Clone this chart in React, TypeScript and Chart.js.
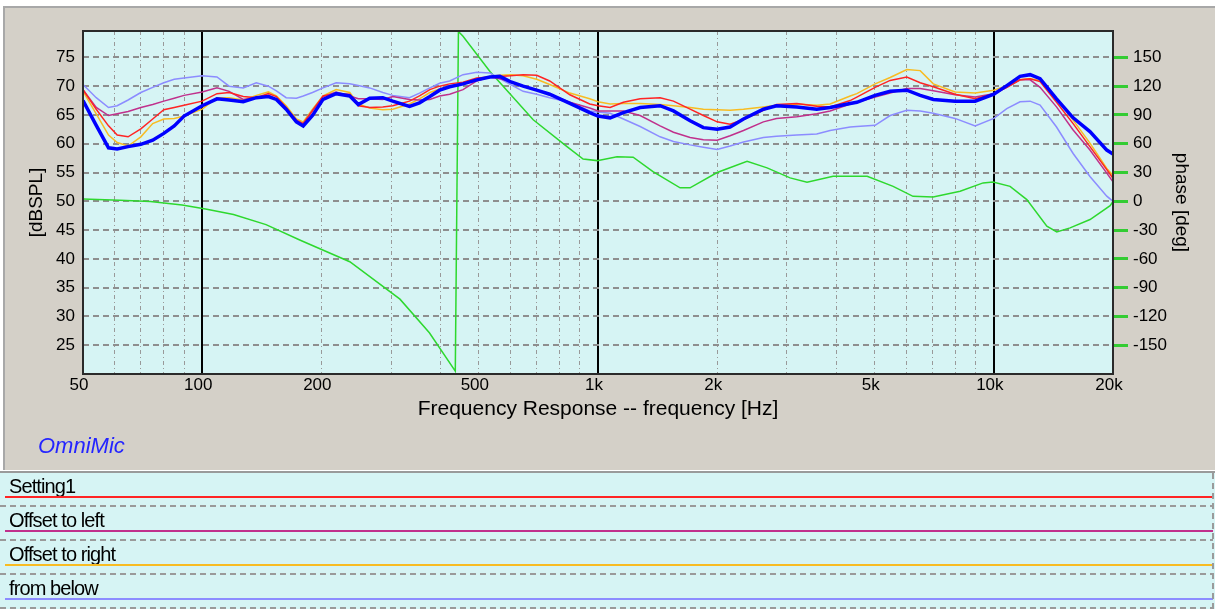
import React, { useEffect, useRef } from 'react';
import { Chart, registerables } from 'chart.js';

Chart.register(...registerables);

// ---------------- data ----------------
const FREQ = [50, 54, 58, 61, 65, 70, 75, 80, 85, 90,
  100, 109, 117, 127, 137, 147, 154, 163, 173, 180,
  190, 202, 218, 236, 248, 265, 286, 303, 334, 354,
  376, 398, 422, 456, 494, 533, 565, 600, 647, 700,
  755, 849, 953, 1000, 1073, 1159, 1278, 1435, 1551, 1709,
  1846, 2000, 2156, 2331, 2617, 2825, 3180, 3569, 3858, 4336,
  4507, 5013, 5471, 6028, 6515, 7033, 7980, 8970, 10000, 10783,
  11645, 12350, 13085, 14400, 15860, 17490, 19290, 20000];

const MAIN = [67.5, 63.2, 59.3, 59.1, 59.5, 59.9, 60.6, 61.8, 63.1, 64.8,
  66.6, 67.8, 67.6, 67.3, 68.0, 68.2, 67.7, 66.0, 63.8, 63.1,
  64.9, 67.7, 68.7, 68.3, 66.8, 67.9, 68.0, 67.4, 66.5, 67.1,
  68.2, 69.3, 69.9, 70.4, 71.1, 71.6, 71.7, 70.8, 70.0, 69.3,
  68.6, 67.0, 65.4, 64.8, 64.5, 65.4, 66.3, 66.6, 65.7, 64.0,
  62.8, 62.5, 62.9, 64.3, 66.0, 66.6, 66.4, 66.0, 66.3, 67.0,
  67.2, 68.4, 69.1, 69.3, 68.4, 67.7, 67.4, 67.4, 68.6, 70.1,
  71.7, 72.0, 71.3, 67.8, 64.5, 62.1, 58.9, 58.2];

const SETTING1 = [69.4, 66.0, 63.1, 61.5, 61.2, 62.6, 64.3, 65.9, 66.3, 66.7,
  67.4, 68.7, 68.9, 68.2, 68.0, 68.7, 68.2, 66.3, 64.0, 63.5,
  65.7, 68.3, 68.7, 68.6, 66.6, 66.3, 66.4, 66.6, 67.4, 68.3,
  69.4, 70.0, 70.4, 70.7, 71.4, 71.6, 71.7, 71.8, 72.0, 71.9,
  70.9, 68.5, 66.9, 66.6, 66.3, 67.2, 67.8, 68.0, 67.4, 66.0,
  64.9, 63.8, 63.4, 64.2, 65.8, 66.8, 67.0, 66.5, 66.4, 67.5,
  68.1, 69.8, 71.0, 71.6, 70.6, 69.9, 68.6, 67.8, 68.7, 69.8,
  71.1, 71.3, 70.8, 67.2, 63.5, 59.5, 55.5, 54.0];

const OFFSET_LEFT = [69.4, 66.3, 64.9, 65.2, 65.6, 66.3, 66.8, 67.4, 67.9, 68.4,
  69.0, 69.7, 69.1, 67.7, 68.0, 68.4, 67.7, 66.0, 64.1, 63.5,
  65.8, 68.2, 69.0, 68.3, 67.8, 67.8, 67.7, 68.2, 67.7, 67.6,
  67.7, 68.3, 68.6, 69.4, 70.9, 71.6, 71.3, 70.8, 70.0, 69.4,
  68.6, 67.2, 66.2, 65.7, 65.7, 65.7, 64.9, 63.1, 62.0, 61.1,
  60.7, 60.6, 61.4, 62.3, 63.8, 64.4, 64.7, 65.2, 65.7, 66.9,
  67.2, 68.1, 68.8, 69.6, 69.6, 69.2, 68.5, 68.1, 68.7, 69.8,
  71.1, 71.1, 69.8, 66.4, 62.4, 58.9, 54.9, 53.4];

const OFFSET_RIGHT = [69.1, 65.2, 61.5, 60.2, 59.6, 61.2, 63.5, 64.3, 64.4, 64.8,
  66.0, 68.0, 68.0, 67.6, 68.4, 69.0, 68.3, 66.6, 64.3, 63.8,
  66.0, 68.3, 69.4, 68.9, 66.9, 66.2, 65.9, 66.0, 66.9, 67.8,
  68.9, 69.5, 70.0, 70.6, 71.2, 71.7, 71.9, 72.0, 71.8, 71.2,
  70.3, 68.8, 67.8, 67.3, 66.9, 67.0, 67.0, 66.8, 66.6, 66.3,
  66.0, 65.9, 65.8, 66.0, 66.4, 66.7, 66.9, 66.7, 66.9, 68.3,
  68.7, 70.4, 71.5, 72.9, 72.7, 70.4, 69.0, 68.8, 69.3, 70.1,
  71.1, 71.3, 71.0, 67.8, 64.1, 60.1, 55.7, 54.5];

const FROM_BELOW = [70.3, 68.0, 66.3, 66.6, 67.6, 68.9, 69.8, 70.6, 71.2, 71.4,
  71.8, 71.6, 70.0, 69.7, 70.6, 70.0, 69.2, 68.0, 67.9, 68.3,
  68.9, 69.7, 70.6, 70.4, 70.1, 69.7, 68.9, 68.4, 68.0, 68.8,
  69.7, 70.5, 70.9, 72.0, 72.4, 72.3, 71.3, 70.3, 69.1, 68.6,
  68.0, 67.2, 65.7, 65.5, 65.3, 64.3, 63.0, 61.2, 60.4, 59.8,
  59.4, 59.0, 59.6, 60.3, 61.1, 61.3, 61.5, 61.7, 62.3, 62.9,
  63.0, 63.2, 64.9, 65.8, 65.7, 65.3, 64.4, 63.1, 64.4, 66.1,
  67.3, 67.4, 66.7, 62.9, 58.3, 54.3, 50.9, 50.0];

const PHASE_FREQ = [50, 62, 74, 89, 102, 120, 145, 177, 236, 316,
  375, 436, 444, 456, 534, 686, 835, 917, 995, 1117,
  1227, 1377, 1612, 1708, 2000, 2380, 2674, 3057, 3373, 3926,
  4786, 5567, 6250, 7025, 8220, 9395, 9955, 10990, 12115, 13610,
  14420, 15580, 17500, 19670, 20000];

const PHASE = [2.5, 1, -0.3, -3.8, -8, -13.8, -24.3, -40.6, -63, -102,
  -137, -177, 177, 172, 135, 85, 57, 44, 42.4, 46.5,
  46, 31, 14, 14, 30, 41.7, 34.8, 24.4, 19.8, 26,
  26, 15.6, 5.2, 4.6, 10.4, 19.2, 20, 15.6, 1.8, -26,
  -32, -27.7, -19, -4.5, 0];

const X_TICKS = [50, 60, 70, 80, 90, 100, 200, 300, 400, 500, 600, 700, 800, 900,
  1000, 2000, 3000, 4000, 5000, 6000, 7000, 8000, 9000, 10000, 20000];
const X_LABELS: Record<number, string> = {
  50: '50', 100: '100', 200: '200', 500: '500', 1000: '1k', 2000: '2k',
  5000: '5k', 10000: '10k', 20000: '20k',
};
const MAJOR_X = [100, 1000, 10000];
const DB_TICKS = [25, 30, 35, 40, 45, 50, 55, 60, 65, 70, 75];
const PHASE_TICKS = [-150, -120, -90, -60, -30, 0, 30, 60, 90, 120, 150];

const LEGEND_LABELS = ['Setting1', 'Offset to left', 'Offset to right', 'from below'];

const X_TITLE = 'Frequency Response -- frequency [Hz]';
const Y_TITLE = '[dBSPL]';
const Y2_TITLE = 'phase [deg]';
const BRAND = 'OmniMic';

// ---------------- styles ----------------
const PLOT_BG = '#D6F4F4';
const PANEL_BG = '#D4D0C8';
const C_MAIN = '#0000FF';
const C_SET1 = '#FF2424';
const C_LEFT = '#C0308C';
const C_RIGHT = '#F8BC22';
const C_BELOW = '#8C8CFF';
const C_PHASE = '#2ED82E';
const LEGEND_COLORS = [C_SET1, C_LEFT, C_RIGHT, C_BELOW];

const PHASE_MIN = -180;
const PHASE_MAX = 177.5;
const DB_MIN = 50 + PHASE_MIN / 6;
const DB_MAX = 50 + PHASE_MAX / 6;

const FONT = "'Liberation Sans', Arial, sans-serif";

const framePlugin = {
  id: 'plotFrame',
  beforeDraw(chart: any) {
    const { ctx, chartArea: a } = chart;
    ctx.save();
    ctx.fillStyle = PLOT_BG;
    ctx.fillRect(a.left, a.top, a.right - a.left, a.bottom - a.top);
    ctx.restore();
  },
  afterDraw(chart: any) {
    const { ctx, chartArea: a } = chart;
    ctx.save();
    ctx.strokeStyle = '#2A2A2A';
    ctx.lineWidth = 2;
    ctx.strokeRect(a.left, a.top, a.right - a.left, a.bottom - a.top);
    ctx.restore();
  },
};

function series(label: string, xs: number[], ys: number[], color: string, width: number, axis = 'y') {
  return {
    label,
    data: xs.map((x, i) => ({ x, y: ys[i] })),
    borderColor: color,
    backgroundColor: color,
    borderWidth: width,
    pointRadius: 0,
    pointHoverRadius: 0,
    tension: 0,
    fill: false,
    yAxisID: axis,
    xAxisID: 'x',
  };
}

export default function App() {
  const canvasRef = useRef<HTMLCanvasElement | null>(null);

  useEffect(() => {
    if (!canvasRef.current) return;
    Chart.defaults.font.family = FONT;
    const isMajor = (c: any) => MAJOR_X.includes(c?.tick?.value);
    const chart = new Chart(canvasRef.current, {
      type: 'line',
      data: {
        datasets: [
          series('Measurement', FREQ, MAIN, C_MAIN, 3.5),
          series(LEGEND_LABELS[0], FREQ, SETTING1, C_SET1, 1.5),
          series(LEGEND_LABELS[1], FREQ, OFFSET_LEFT, C_LEFT, 1.5),
          series(LEGEND_LABELS[2], FREQ, OFFSET_RIGHT, C_RIGHT, 1.5),
          series(LEGEND_LABELS[3], FREQ, FROM_BELOW, C_BELOW, 1.5),
          series('Phase', PHASE_FREQ, PHASE, C_PHASE, 1.5, 'y2'),
        ],
      } as any,
      options: {
        responsive: false,
        animation: false,
        devicePixelRatio: 1,
        events: [],
        layout: { padding: { top: 31, left: 0, right: 0, bottom: 46 } },
        plugins: { legend: { display: false }, tooltip: { enabled: false } },
        scales: {
          x: {
            type: 'logarithmic',
            min: 50,
            max: 20000,
            afterBuildTicks: (s: any) => { s.ticks = X_TICKS.map((v) => ({ value: v })); },
            afterFit: (s: any) => { s.height = 50; },
            ticks: {
              autoSkip: false,
              maxRotation: 0,
              minRotation: 0,
              padding: 1,
              labelOffset: -4,
              color: '#000',
              font: { size: 17 },
              callback: (v: any) => X_LABELS[Number(v)] ?? '',
            },
            grid: {
              drawTicks: false,
              color: (c: any) => {
                const v = c?.tick?.value;
                if (v === 50 || v === 20000) return 'rgba(0,0,0,0)';
                return isMajor(c) ? '#000000' : '#999999';
              },
              lineWidth: (c: any) => (isMajor(c) ? 2 : 1),
            },
            border: { display: false, dash: (c: any) => (isMajor(c) ? [] : [4, 3, 1, 3]) },
            title: { display: true, text: X_TITLE, color: '#000', font: { size: 21 }, padding: { top: 0, bottom: 2 } },
          },
          y: {
            type: 'linear',
            position: 'left',
            min: DB_MIN,
            max: DB_MAX,
            afterBuildTicks: (s: any) => { s.ticks = DB_TICKS.map((v) => ({ value: v })); },
            afterFit: (s: any) => { s.width = 83; },
            ticks: { padding: 8, color: '#000', font: { size: 17 } },
            grid: { drawTicks: false, color: '#8E8E8E', lineWidth: 2 },
            border: { display: false, dash: [6, 4] },
            title: { display: true, text: Y_TITLE, color: '#000', font: { size: 19 }, padding: { top: 25, bottom: 0 } },
          },
          y2: {
            type: 'linear',
            position: 'right',
            min: PHASE_MIN,
            max: PHASE_MAX,
            afterBuildTicks: (s: any) => { s.ticks = PHASE_TICKS.map((v) => ({ value: v })); },
            afterFit: (s: any) => { s.width = 102; },
            ticks: { padding: 5, color: '#000', font: { size: 17 } },
            grid: { drawOnChartArea: false, drawTicks: true, tickLength: 15, tickColor: '#33CC33', tickWidth: 3 },
            border: { display: false },
            title: { display: true, text: Y2_TITLE, color: '#000', font: { size: 19 }, padding: { top: 22, bottom: 0 } },
          },
        },
      } as any,
      plugins: [framePlugin],
    });
    return () => chart.destroy();
  }, []);

  const dashH = 'repeating-linear-gradient(to right, #9A9A9A 0 6px, transparent 6px 10px)';
  const dashV = 'repeating-linear-gradient(to bottom, #9A9A9A 0 6px, transparent 6px 10px)';

  return (
    <div style={{ position: 'fixed', left: 0, top: 0, width: 1215, height: 609, background: '#FFFFFF', overflow: 'hidden', fontFamily: FONT }}>
      <div style={{ position: 'absolute', left: 3, top: 6, width: 1212, height: 464, background: PANEL_BG, borderTop: '2px solid #A8A8A8', borderLeft: '2px solid #A8A8A8', boxSizing: 'border-box' }} />
      <canvas ref={canvasRef} width={1215} height={470} style={{ position: 'absolute', left: 0, top: 0, width: 1215, height: 470 }} />
      <div style={{ position: 'absolute', left: 38, top: 433, fontSize: 22, lineHeight: '26px', fontStyle: 'italic', color: '#2424FF', whiteSpace: 'nowrap' }}>{BRAND}</div>
      <div style={{ position: 'absolute', left: 0, top: 470, width: 1215, height: 139, background: PLOT_BG }}>
        <div style={{ position: 'absolute', left: 0, top: 0, width: 1215, height: 1, background: '#FFFFFF' }} />
        <div style={{ position: 'absolute', left: 0, top: 1, width: 1215, height: 2, background: '#9A9A9A' }} />
        {LEGEND_LABELS.map((label, i) => (
          <React.Fragment key={label}>
            <div style={{ position: 'absolute', left: 9, top: 5 + i * 34, fontSize: 20, lineHeight: '22px', letterSpacing: '-0.9px', color: '#000', whiteSpace: 'nowrap' }}>{label}</div>
            <div style={{ position: 'absolute', left: 5, top: 26 + i * 34, width: 1208, height: 2, background: LEGEND_COLORS[i] }} />
            <div style={{ position: 'absolute', left: 0, top: 35 + i * 34, width: 1213, height: 2, background: dashH }} />
          </React.Fragment>
        ))}
        <div style={{ position: 'absolute', left: 1212, top: 3, width: 2, height: 136, background: dashV }} />
      </div>
    </div>
  );
}
